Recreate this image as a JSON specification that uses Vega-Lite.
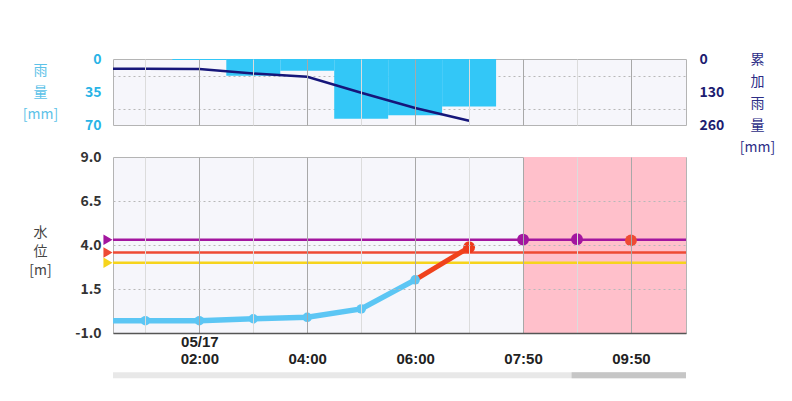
{
  "$schema": "https://vega.github.io/schema/vega-lite/v6.json",
  "background": "white",
  "padding": {"left": 21, "top": 51, "right": 5, "bottom": 5},
  "config": {
    "font": "Noto Sans CJK JP",
    "view": {"fill": "#f6f6fb", "stroke": "#b4b4b4"},
    "axis": {"labelFont": "Noto Sans CJK JP", "titleFont": "Noto Sans CJK JP", "ticks": false, "domain": false, "labelFlush": false, "labelOverlap": false}
  },
  "datasets": {
    "rain": [
      {"from": 1.5, "to": 2.5, "rain": 1.0},
      {"from": 2.5, "to": 3.5, "rain": 17.7},
      {"from": 3.5, "to": 4.5, "rain": 12.4},
      {"from": 4.5, "to": 5.5, "rain": 63.3},
      {"from": 5.5, "to": 6.5, "rain": 59.7},
      {"from": 6.5, "to": 7.5, "rain": 50.5}
    ],
    "cumulative": [
      {"slot": 0, "total": 38.6},
      {"slot": 1, "total": 38.6},
      {"slot": 2, "total": 39.6},
      {"slot": 3, "total": 57.3},
      {"slot": 4, "total": 69.7},
      {"slot": 5, "total": 133.0},
      {"slot": 6, "total": 192.7},
      {"slot": 7, "total": 243.2}
    ],
    "observed": [
      {"slot": 0, "level": -0.30},
      {"slot": 1, "level": -0.30},
      {"slot": 2, "level": -0.30},
      {"slot": 3, "level": -0.19},
      {"slot": 4, "level": -0.11},
      {"slot": 5, "level": 0.37},
      {"slot": 6, "level": 2.02},
      {"slot": 7, "level": 3.87}
    ],
    "forecast": [
      {"slot": 8, "level": 4.31, "kind": "氾濫危険"},
      {"slot": 9, "level": 4.33, "kind": "氾濫危険"},
      {"slot": 10, "level": 4.26, "kind": "避難判断"}
    ],
    "thresholds": [
      {"name": "氾濫危険水位", "kind": "氾濫危険", "level": 4.30},
      {"name": "避難判断水位", "kind": "避難判断", "level": 3.57},
      {"name": "氾濫注意水位", "kind": "氾濫注意", "level": 2.99}
    ],
    "forecast_span": [{"from": 8, "to": 11.02}],
    "scroll": [
      {"part": "track", "from": 0.4, "to": 11.02},
      {"part": "thumb", "from": 8.9, "to": 11.02}
    ]
  },
  "bounds": "flush",
  "spacing": 32,
  "vconcat": [
    {
      "width": 573,
      "height": 66,
      "layer": [
        {
          "data": {"name": "rain"},
          "mark": {"type": "rect", "color": "#33c7f7", "clip": true},
          "encoding": {
            "x": {"field": "from", "type": "quantitative", "scale": {"domain": [0.4, 11.02], "nice": false, "zero": false},
              "axis": {"values": [1, 2, 3, 4, 5, 6, 7, 8, 9, 10], "labels": false, "title": null, "grid": true, "zindex": 1,
                "gridColor": {"condition": {"test": "datum.value % 2 == 0", "value": "#a8a8a8"}, "value": "#dcdcdc"}}},
            "x2": {"field": "to"},
            "y": {"field": "rain", "type": "quantitative", "scale": {"domain": [0, 70], "reverse": true, "nice": false, "zero": false},
              "axis": {"values": [0, 17.5, 35, 52.5, 70], "labelExpr": "datum.value % 35 == 0 ? datum.label : ''",
                "labelColor": "#2ab4e6", "labelFontSize": 14, "labelFontWeight": "bold", "labelPadding": 12,
                "grid": true, "gridDash": [2, 3], "gridColor": "#b8b8b8",
                "gridOpacity": {"condition": {"test": "datum.value % 35 == 0", "value": 0}, "value": 1},
                "title": ["雨", "量", "[mm]"], "titleAngle": 0, "titleAlign": "center", "titleBaseline": "middle",
                "titleX": -73, "titleY": 11, "titleColor": "#5cc2e8", "titleFontSize": 14, "titleFontWeight": "normal", "titleLineHeight": 22}},
            "y2": {"datum": 0}
          }
        },
        {
          "data": {"name": "cumulative"},
          "mark": {"type": "line", "color": "#16167a", "strokeWidth": 2.5, "clip": true},
          "encoding": {
            "x": {"field": "slot", "type": "quantitative"},
            "y": {"field": "total", "type": "quantitative", "scale": {"domain": [0, 260], "reverse": true, "nice": false, "zero": false},
              "axis": {"orient": "right", "values": [0, 130, 260], "grid": false,
                "labelColor": "#1c1c70", "labelFontSize": 14, "labelFontWeight": "bold", "labelPadding": 13,
                "title": ["累", "加", "雨", "量", "[mm]"], "titleAngle": 0, "titleAlign": "center", "titleBaseline": "middle",
                "titleX": 71, "titleY": 0, "titleColor": "#2d2d86", "titleFontSize": 14, "titleFontWeight": "normal", "titleLineHeight": 22}}
          }
        }
      ],
      "resolve": {"scale": {"y": "independent"}}
    },
    {
      "width": 573,
      "height": 176,
      "layer": [
        {
          "data": {"name": "forecast_span"},
          "mark": {"type": "rect", "color": "#ffc0cb", "clip": true},
          "encoding": {
            "x": {"field": "from", "type": "quantitative", "scale": {"domain": [0.4, 11.02], "nice": false, "zero": false},
              "axis": {"values": [1, 2, 3, 4, 5, 6, 7, 8, 9, 10], "title": null,
                "labelExpr": "datum.value == 2 ? ['05/17', '02:00'] : datum.value == 4 ? ['', '04:00'] : datum.value == 6 ? ['', '06:00'] : datum.value == 8 ? ['', '07:50'] : datum.value == 10 ? ['', '09:50'] : ''",
                "labelFont": "Liberation Sans", "labelFontSize": 15, "labelFontWeight": "bold", "labelColor": "#222", "labelLineHeight": 17, "labelPadding": 1,
                "grid": true, "gridColor": {"condition": {"test": "datum.value % 2 == 0", "value": "#a8a8a8"}, "value": "#dcdcdc"},
                "domain": true, "domainColor": "#555", "domainWidth": 1.5, "zindex": 1}},
            "x2": {"field": "to"}
          }
        },
        {
          "data": {"name": "thresholds"},
          "mark": {"type": "rule", "strokeWidth": 2.5},
          "encoding": {
            "y": {"field": "level", "type": "quantitative", "scale": {"domain": [-1, 9], "nice": false, "zero": false},
              "axis": {"values": [-1, 0.25, 1.5, 2.75, 4, 5.25, 6.5, 7.75, 9],
                "labelExpr": "(datum.value + 1) % 2.5 == 0 ? replace(format(datum.value, '.1f'), '−', '-') : ''",
                "labelFontSize": 14, "labelFontWeight": "bold", "labelColor": "#333", "labelPadding": 12,
                "grid": true, "gridDash": [2, 3], "gridColor": "#b8b8b8",
                "gridOpacity": {"condition": {"test": "datum.value == -1 || datum.value == 9", "value": 0}, "value": 1},
                "title": ["水", "位", "[m]"], "titleAngle": 0, "titleAlign": "center", "titleBaseline": "middle",
                "titleX": -73, "titleY": 75, "titleColor": "#444", "titleFontSize": 14, "titleFontWeight": "normal", "titleLineHeight": 19, "zindex": 1}},
            "color": {"field": "kind", "type": "nominal", "scale": {"domain": ["氾濫危険", "避難判断", "氾濫注意"], "range": ["#a3169f", "#ee4a34", "#f6d41c"]}, "legend": null}
          }
        },
        {
          "data": {"name": "thresholds"},
          "mark": {"type": "point", "shape": "triangle-right", "filled": true, "size": 110, "opacity": 1, "xOffset": -5},
          "encoding": {
            "x": {"datum": 0.4, "type": "quantitative"},
            "y": {"field": "level", "type": "quantitative"},
            "color": {"field": "kind", "type": "nominal", "legend": null}
          }
        },
        {
          "data": {"name": "observed"},
          "transform": [{"filter": "datum.slot <= 6"}],
          "mark": {"type": "line", "color": "#5cc6f4", "strokeWidth": 5.5, "clip": true},
          "encoding": {"x": {"field": "slot", "type": "quantitative"}, "y": {"field": "level", "type": "quantitative"}}
        },
        {
          "data": {"name": "observed"},
          "transform": [{"filter": "datum.slot >= 6"}],
          "mark": {"type": "line", "color": "#f0421c", "strokeWidth": 5, "clip": true},
          "encoding": {"x": {"field": "slot", "type": "quantitative"}, "y": {"field": "level", "type": "quantitative"}}
        },
        {
          "data": {"name": "observed"},
          "transform": [{"filter": "datum.slot >= 1 && datum.slot <= 6"}],
          "mark": {"type": "circle", "color": "#5cc6f4", "size": 90, "opacity": 1, "clip": true},
          "encoding": {"x": {"field": "slot", "type": "quantitative"}, "y": {"field": "level", "type": "quantitative"}}
        },
        {
          "data": {"name": "observed"},
          "transform": [{"filter": "datum.slot == 7"}],
          "mark": {"type": "circle", "color": "#ee3a1c", "size": 140, "opacity": 1},
          "encoding": {"x": {"field": "slot", "type": "quantitative"}, "y": {"field": "level", "type": "quantitative"}}
        },
        {
          "data": {"name": "forecast"},
          "mark": {"type": "circle", "size": 140, "opacity": 1},
          "encoding": {
            "x": {"field": "slot", "type": "quantitative"},
            "y": {"field": "level", "type": "quantitative"},
            "color": {"field": "kind", "type": "nominal", "legend": null}
          }
        },
        {
          "data": {"name": "scroll"},
          "transform": [{"filter": "datum.part == 'track'"}],
          "mark": {"type": "rect", "color": "#e8e8e8"},
          "encoding": {
            "x": {"field": "from", "type": "quantitative"},
            "x2": {"field": "to"},
            "y": {"datum": -3.23, "type": "quantitative"},
            "y2": {"datum": -3.57}
          }
        },
        {
          "data": {"name": "scroll"},
          "transform": [{"filter": "datum.part == 'thumb'"}],
          "mark": {"type": "rect", "color": "#c6c6c6"},
          "encoding": {
            "x": {"field": "from", "type": "quantitative"},
            "x2": {"field": "to"},
            "y": {"datum": -3.23, "type": "quantitative"},
            "y2": {"datum": -3.57}
          }
        }
      ]
    }
  ]
}
